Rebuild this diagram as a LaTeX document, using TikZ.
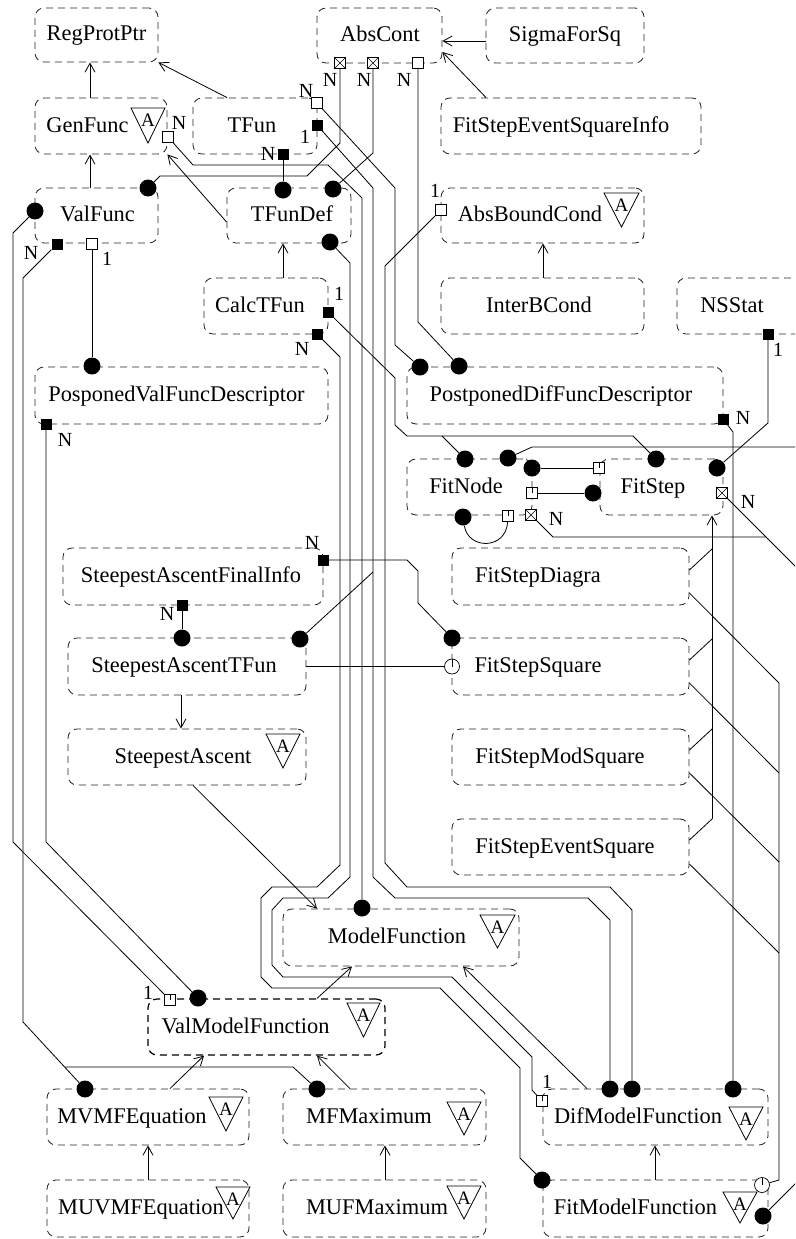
\documentclass[tikz,border=0pt]{standalone}
\usepackage{fontspec}
\setmainfont{Liberation Serif}
\usetikzlibrary{arrows.meta}
\newcommand\ubox[6][box]{\node[#1, minimum width={#5-#3}, minimum height={#6-#4}] (#2) at ({(#3+#5)/2},{(#4+#6)/2}) {};}
\newcommand\atri[5]{\draw[line width=0.8pt] (#2,#4) -- (#3,#4) -- ({(#2+#3)/2},#5) -- cycle;
  \node[lbl, font=\fontsize{19}{22}\selectfont] (#1) at ({(#2+#3)/2},{#4+12}) {A};}
\begin{document}
\begin{tikzpicture}[x=1pt,y=-1pt,
  box/.style={draw=black!85, dash pattern=on 7pt off 5pt, rounded corners=9pt, line width=0.85pt, inner sep=0pt},
  boxb/.style={box, draw=black, line width=1.2pt},
  txt/.style={font=\fontsize{22.4}{26}\selectfont, anchor=base, inner sep=0pt},
  lbl/.style={font=\fontsize{20}{24}\selectfont, inner sep=0pt},
  ln/.style={line width=0.8pt},
  arr/.style={line width=0.8pt, -{Straight Barb[length=9pt,width=10pt]}},
  dot/.style={circle, fill=black, inner sep=0pt, minimum size=17pt},
  fsq/.style={rectangle, fill=black, inner sep=0pt, minimum size=11pt},
  hsq/.style={rectangle, draw, fill=white, line width=0.7pt, inner sep=0pt, minimum size=11pt},
  xsq/.style={hsq, path picture={\draw[line width=0.6pt] (path picture bounding box.north west) -- (path picture bounding box.south east) (path picture bounding box.south west) -- (path picture bounding box.north east);}},
  tsq/.style={hsq, path picture={\draw[line width=0.6pt] (path picture bounding box.center) -- (path picture bounding box.north);}},
  tci/.style={circle, draw, fill=white, line width=0.7pt, inner sep=0pt, minimum size=15pt, path picture={\draw[line width=0.6pt] (path picture bounding box.center) -- (path picture bounding box.north);}}
]
\useasboundingbox (0,0) rectangle (795,1239);
\clip (0,0) rectangle (795,1239);

% boxes
\ubox{RegProtPtr}{35}{8}{158}{62}
\ubox{AbsCont}{317}{8}{442}{63}
\ubox{SigmaForSq}{486}{8}{644}{63}
\ubox{FitStepEventSquareInfo}{441}{98}{701}{154}
\ubox{GenFunc}{35}{98}{167}{154}
\ubox{TFun}{193}{98}{317}{154}
\ubox{ValFunc}{35}{188}{158}{243}
\ubox{TFunDef}{227}{188}{351}{243}
\ubox{AbsBoundCond}{441}{188}{644}{243}
\ubox{CalcTFun}{204}{278}{328}{334}
\ubox{InterBCond}{441}{278}{644}{334}
\ubox{NSStat}{677}{278}{812}{334}
\ubox{PosponedValFuncDescriptor}{35}{367}{328}{424}
\ubox{PostponedDifFuncDescriptor}{407}{367}{723}{424}
\ubox{FitNode}{407}{459}{532}{515}
\ubox{FitStep}{600}{459}{723}{515}
\ubox{SteepestAscentFinalInfo}{63}{548}{323}{605}
\ubox{SteepestAscentTFun}{68}{638}{306}{695}
\ubox{SteepestAscent}{68}{729}{306}{785}
\ubox{FitStepDiagra}{452}{548}{689}{605}
\ubox{FitStepSquare}{452}{638}{689}{695}
\ubox{FitStepModSquare}{452}{729}{689}{785}
\ubox{FitStepEventSquare}{452}{819}{689}{875}
\ubox{ModelFunction}{283}{909}{519}{966}
\ubox[boxb]{ValModelFunction}{148}{999}{385}{1055}
\ubox{MVMFEquation}{47}{1089}{249}{1145}
\ubox{MUVMFEquation}{47}{1180}{249}{1237}
\ubox{MFMaximum}{283}{1089}{486}{1145}
\ubox{MUFMaximum}{283}{1180}{486}{1237}
\ubox{DifModelFunction}{543}{1089}{768}{1145}
\ubox{FitModelFunction}{543}{1180}{768}{1237}

% texts
\node[txt] (t1) at (96.5,41) {RegProtPtr};
\node[txt] (t2) at (380,41.5) {AbsCont};
\node[txt] (t3) at (565,41.5) {SigmaForSq};
\node[txt] (t4) at (561,132) {FitStepEventSquareInfo};
\node[txt] (t5) at (87.5,132) {GenFunc};
\node[txt] (t6) at (252,132) {TFun};
\node[txt] (t7) at (97.5,221.5) {ValFunc};
\node[txt] (t8) at (292,221.5) {TFunDef};
\node[txt] (t9) at (530,221.5) {AbsBoundCond};
\node[txt] (t10) at (260,312) {CalcTFun};
\node[txt] (t11) at (539,312) {InterBCond};
\node[txt] (t12) at (732,312) {NSStat};
\node[txt] (t13) at (176.5,401.5) {PosponedValFuncDescriptor};
\node[txt] (t14) at (561,401.5) {PostponedDifFuncDescriptor};
\node[txt] (t15) at (466,493) {FitNode};
\node[txt] (t16) at (653,493) {FitStep};
\node[txt] (t17) at (191,582.5) {SteepestAscentFinalInfo};
\node[txt] (t18) at (184,672.5) {SteepestAscentTFun};
\node[txt] (t19) at (183,763) {SteepestAscent};
\node[txt] (t20) at (538,582.5) {FitStepDiagra};
\node[txt] (t21) at (538,672.5) {FitStepSquare};
\node[txt] (t22) at (560,763) {FitStepModSquare};
\node[txt] (t23) at (565,853) {FitStepEventSquare};
\node[txt] (t24) at (397,943.5) {ModelFunction};
\node[txt] (t25) at (245.5,1033) {ValModelFunction};
\node[txt] (t26) at (132,1123) {MVMFEquation};
\node[txt] (t27) at (141,1214.5) {MUVMFEquation};
\node[txt] (t28) at (369,1123) {MFMaximum};
\node[txt] (t29) at (377,1214.5) {MUFMaximum};
\node[txt] (t30) at (638,1123) {DifModelFunction};
\node[txt] (t31) at (635.5,1214.5) {FitModelFunction};

% abstract triangles
\atri{a1}{131}{165}{108}{143}
\atri{a2}{604}{639}{193}{227}
\atri{a3}{266}{300}{734}{768}
\atri{a4}{480}{515}{915}{948}
\atri{a5}{347}{380}{1003}{1037}
\atri{a6}{209}{243}{1097}{1131}
\atri{a7}{216}{250}{1187}{1219}
\atri{a8}{447}{481}{1102}{1135}
\atri{a9}{447}{481}{1186}{1219}
\atri{a10}{729}{763}{1107}{1140}
\atri{a11}{723}{757}{1192}{1223}

% ports
\node[xsq] (AC-xa) at (340,63) {};
\node[xsq] (AC-xb) at (373,63) {};
\node[hsq] (AC-hc) at (418,63) {};
\node[hsq] (TF-hn) at (317,103) {};
\node[fsq] (TF-f1) at (317,125) {};
\node[fsq] (TF-fb) at (283,154) {};
\node[hsq] (GF-hn) at (168,137) {};
\node[dot] (VF-dtr) at (148,188) {};
\node[dot] (VF-dl) at (35,211) {};
\node[fsq] (VF-fn) at (57,244) {};
\node[hsq] (VF-h1) at (92,244) {};
\node[dot] (TD-dt) at (283,190) {};
\node[dot] (TD-dtr) at (333,189) {};
\node[dot] (TD-dbr) at (330,242) {};
\node[hsq] (AB-h1) at (441,210) {};
\node[fsq] (CT-f1) at (328,312) {};
\node[fsq] (CT-fn) at (317,334) {};
\node[fsq] (NS-f1) at (768,334) {};
\node[dot] (PV-dt) at (92,366) {};
\node[fsq] (PV-fn) at (46,424) {};
\node[dot] (PD-da) at (420,367) {};
\node[dot] (PD-db) at (459,366) {};
\node[fsq] (PD-fn) at (723,419) {};
\node[dot] (FN-dta) at (465,459) {};
\node[dot] (FN-dtb) at (508,458) {};
\node[dot] (FN-dr) at (532,468) {};
\node[tsq] (FN-hr) at (532,493) {};
\node[dot] (FN-db) at (463,517) {};
\node[tsq] (FN-hb) at (508,516) {};
\node[xsq] (FN-xb) at (531,515) {};
\node[dot] (FS-dt) at (656,459) {};
\node[dot] (FS-dtr) at (717,468) {};
\node[tsq] (FS-hl) at (599,468) {};
\node[dot] (FS-dl) at (593,493) {};
\node[xsq] (FS-xr) at (722,493) {};
\node[fsq] (SF-fr) at (323,560) {};
\node[fsq] (SF-fb) at (182,605) {};
\node[dot] (ST-dt) at (182,638) {};
\node[dot] (ST-dtr) at (300,639) {};
\node[dot] (SQ-dtl) at (452,638) {};
\node[tci] (SQ-cl) at (452,666.5) {};
\node[dot] (MF-dt) at (362,908) {};
\node[tsq] (VM-h1) at (170,1000) {};
\node[dot] (VM-dt) at (198,998) {};
\node[dot] (MV-dtl) at (85,1089) {};
\node[dot] (MM-dtl) at (317,1089) {};
\node[tsq] (DF-h1) at (542,1101) {};
\node[dot] (DF-da) at (610,1089) {};
\node[dot] (DF-db) at (632,1089) {};
\node[dot] (DF-dc) at (733,1089) {};
\node[dot] (FM-dtl) at (542,1180) {};
\node[tci] (FM-ctr) at (762,1185) {};
\node[dot] (FM-dr) at (763,1216) {};

% multiplicity labels
\node[lbl] (n1) at (330,80) {N};
\node[lbl] (n2) at (364,80) {N};
\node[lbl] (n3) at (404,80) {N};
\node[lbl] (n4) at (306,91) {N};
\node[lbl] (n5) at (305,137) {1};
\node[lbl] (n6) at (268,154) {N};
\node[lbl] (n7) at (179,123) {N};
\node[lbl] (n8) at (31,253) {N};
\node[lbl] (n9) at (107,259) {1};
\node[lbl] (n10) at (435,191) {1};
\node[lbl] (n11) at (339,294) {1};
\node[lbl] (n12) at (302,349) {N};
\node[lbl] (n13) at (778,350) {1};
\node[lbl] (n14) at (65,440) {N};
\node[lbl] (n15) at (743,418) {N};
\node[lbl] (n16) at (556,519) {N};
\node[lbl] (n17) at (748,502) {N};
\node[lbl] (n18) at (312,543) {N};
\node[lbl] (n19) at (167,614) {N};
\node[lbl] (n20) at (148,993) {1};
\node[lbl] (n21) at (547,1082) {1};

% association lines
\draw[ln] (AC-xa) -- (340,143) -- (307,176) -- (160,176) -- (VF-dtr);
\draw[ln] (AC-xb) -- (373,153) -- (TD-dtr);
\draw[ln] (AC-hc) -- (418,322) -- (PD-db);
\draw[ln] (TF-hn) -- (395,188) -- (395,345) -- (PD-da);
\draw[ln] (TF-f1) -- (373,188) -- (373,877) -- (395,898) -- (588,898) -- (610,920) -- (DF-da);
\draw[ln] (ST-dtr) -- (373,572);
\draw[ln] (TF-fb) -- (TD-dt);
\draw[ln] (GF-hn) -- (193,165) -- (328,165) -- (362,198) -- (MF-dt);
\draw[ln] (TD-dbr) -- (350,263) -- (350,877) -- (328,898) -- (283,898) -- (272,910) -- (272,965) -- (283,977) -- (452,977) -- (532,1057) -- (532,1090) -- (DF-h1);
\draw[ln] (CT-fn) -- (340,357) -- (340,865) -- (317,887) -- (272,887) -- (261,898) -- (261,977) -- (272,988) -- (440,988) -- (520,1068) -- (520,1158) -- (FM-dtl);
\draw[ln] (CT-f1) -- (395,378) -- (395,425) -- (407,436) -- (633,436) -- (FS-dt);
\draw[ln] (442,436) -- (FN-dta);
\draw[ln] (AB-h1) -- (385,266) -- (385,863) -- (407,887) -- (610,887) -- (632,910) -- (DF-db);
\draw[ln] (NS-f1) -- (768,423) -- (FS-dtr);
\draw[ln] (PD-fn) -- (733,432) -- (DF-dc);
\draw[ln] (FN-dtb) -- (532,447) -- (800,447);
\draw[ln] (FN-dr) -- (FS-hl);
\draw[ln] (FN-hr) -- (FS-dl);
\draw[ln] (FN-db) .. controls (468,550) and (506,550) .. (FN-hb);
\draw[ln] (FN-xb) -- (553,537) -- (766,537);
\draw[ln] (FS-xr) -- (800,571);
\draw[ln] (SF-fr) -- (407,560) -- (418,571) -- (418,603) -- (SQ-dtl);
\draw[ln] (SF-fb) -- (ST-dt);
\draw[ln] (SteepestAscentTFun.east) -- (SQ-cl);
\draw[ln] (FitStepDiagra.east |- 0,593) -- (779,683);
\draw[ln] (FitStepSquare.east |- 0,683) -- (779,773);
\draw[ln] (FitStepModSquare.east |- 0,773) -- (779,862);
\draw[ln] (FitStepEventSquare.east |- 0,864) -- (779,953);
\draw[ln] (779,683) -- (779,1180) -- (FM-ctr);
\draw[ln] (FM-dr) -- (800,1179);
\draw[ln] (VF-dl) -- (13,233) -- (13,842) -- (VM-h1);
\draw[ln] (VF-fn) -- (23,278) -- (23,1022) -- (MV-dtl);
\draw[ln] (65,1067) -- (293,1067) -- (MM-dtl);
\draw[ln] (VF-h1) -- (PV-dt);
\draw[ln] (PV-fn) -- (46,842) -- (VM-dt);

% generalization / dependency arrows
\draw[arr] (GenFunc.north -| 90,0) -- (RegProtPtr.south -| 90,0);
\draw[arr] (ValFunc.north -| 90,0) -- (GenFunc.south -| 90,0);
\draw[arr] (TFun.north -| 227,0) -- (RegProtPtr.south east);
\draw[arr] (TFunDef.west |- 0,222) -- (GenFunc.south east);
\draw[arr] (CalcTFun.north -| 283,0) -- (TFunDef.south -| 283,0);
\draw[arr] (SigmaForSq.west |- 0,41) -- (AbsCont.east |- 0,41);
\draw[arr] (FitStepEventSquareInfo.north -| 486,0) -- (AbsCont.east |- 0,52);
\draw[arr] (InterBCond.north -| 543,0) -- (AbsBoundCond.south -| 543,0);
\draw[arr] (SteepestAscentTFun.south -| 181,0) -- (SteepestAscent.north -| 181,0);
\draw[arr] (SteepestAscent.south -| 193,0) -- (ModelFunction.north -| 317,0);
\draw[arr] (ValModelFunction.north -| 317,0) -- (ModelFunction.south -| 352,0);
\draw[arr] (MVMFEquation.north -| 170,0) -- (ValModelFunction.south -| 204,0);
\draw[arr] (MFMaximum.north -| 350,0) -- (ValModelFunction.south -| 317,0);
\draw[arr] (MUVMFEquation.north -| 148,0) -- (MVMFEquation.south -| 148,0);
\draw[arr] (MUFMaximum.north -| 385,0) -- (MFMaximum.south -| 385,0);
\draw[arr] (DifModelFunction.north -| 587,0) -- (ModelFunction.south -| 463,0);
\draw[arr] (FitModelFunction.north -| 655,0) -- (DifModelFunction.south -| 655,0);
\draw[arr] (FitStepEventSquare.east -| 712,0) ++(0,-28) -- (FitStep.south -| 712,0);
\draw[ln] (FitStepDiagra.east |- 0,570) -- (712,549);
\draw[ln] (FitStepSquare.east |- 0,660) -- (712,639);
\draw[ln] (FitStepModSquare.east |- 0,750) -- (712,729);
\draw[ln] (FitStepEventSquare.east |- 0,840) -- (712,819);
\end{tikzpicture}
\end{document}
